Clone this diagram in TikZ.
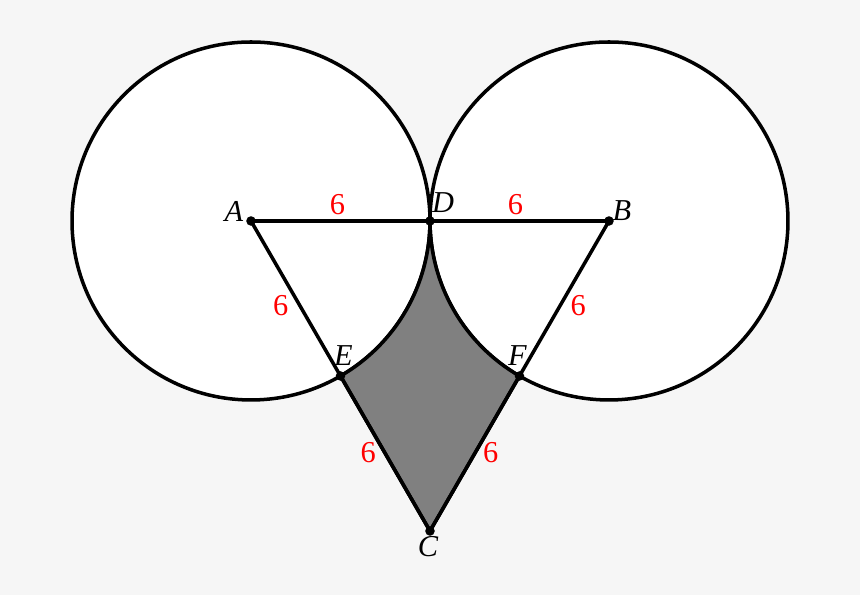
\documentclass[tikz,border=0pt]{standalone}
\usepackage{fontspec}
\setmainfont{Liberation Serif}
\usetikzlibrary{positioning}
\definecolor{mbg}{rgb}{0.965, 0.965, 0.965}
\definecolor{mshade}{rgb}{0.5, 0.5, 0.5}
\tikzset{
  ptlabel/.style={font=\LARGE\itshape, inner sep=0pt},
  len/.style={text=red, font=\LARGE, inner sep=0pt},
}

\begin{document}
\begin{tikzpicture}[scale=0.5967, line width=2pt]
    \fill [mbg] (-8.414, -12.537) rectangle (20.415, 7.408);
    \useasboundingbox (-8.414, -12.537) rectangle (20.415, 7.408);

    \coordinate (A) at (0, 0);
    \coordinate (B) at (12, 0);
    \coordinate (D) at (6, 0);
    \coordinate (C) at (6, -10.392);
    \coordinate (E) at (3, -5.196);
    \coordinate (F) at (9, -5.196);

    \filldraw [fill=white] (A) circle (6);
    \filldraw [fill=white] (B) circle (6);

    % shaded part between the circles
    \filldraw [fill=mshade] (D) arc [start angle=0, end angle=-60, radius=6] -- (C) -- (F)
      arc [start angle=240, end angle=180, radius=6] -- cycle;

    \draw (A) -- (D) node [len, pos=0.5, xshift=-0.06cm, yshift=0.32cm] {6}
      -- (B) node [len, pos=0.5, xshift=-0.08cm, yshift=0.32cm] {6};
    \draw (A) -- (E) node [len, pos=0.5, xshift=-0.30cm, yshift=-0.14cm] {6}
      -- (C) node [len, pos=0.5, xshift=-0.34cm, yshift=0.02cm] {6};
    \draw (B) -- (F) node [len, pos=0.5, xshift=0.28cm, yshift=-0.14cm] {6}
      -- (C) node [len, pos=0.5, xshift=0.32cm, yshift=0.02cm] {6};

    \foreach \p in {A, B, C, D, E, F}
      \fill (\p) circle (0.16);

    \node [ptlabel, xshift=-0.34cm, yshift=0.20cm] (lA) at (A) {A};
    \node [ptlabel, xshift=0.26cm, yshift=0.20cm] (lB) at (B) {B};
    \node [ptlabel, xshift=0.26cm, yshift=0.36cm] (lD) at (D) {D};
    \node [ptlabel, xshift=-0.04cm, yshift=-0.32cm] (lC) at (C) {C};
    \node [ptlabel, xshift=0.06cm, yshift=0.40cm] (lE) at (E) {E};
    \node [ptlabel, xshift=-0.04cm, yshift=0.40cm] (lF) at (F) {F};
  \end{tikzpicture}
\end{document}
